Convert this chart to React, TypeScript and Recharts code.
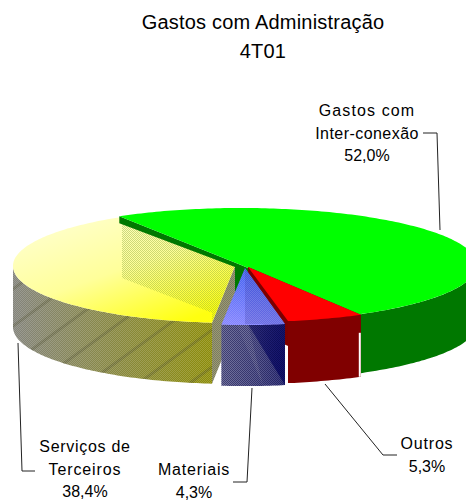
import React from "react";
import { PieChart, Pie, Cell } from "recharts";

const categories = ["Serviços de Terceiros", "Gastos com Inter-conexão", "Outros", "Materiais"];
const shares = [38.4, 52.0, 5.3, 4.3];
const percentLabels = ["38,4%", "52,0%", "5,3%", "4,3%"];
const titleLines = ["Gastos com Administração", "4T01"];

const labelLines: string[][] = [
  ["Serviços de", "Terceiros", "38,4%"],
  ["Gastos com", "Inter-conexão", "52,0%"],
  ["Outros", "5,3%"],
  ["Materiais", "4,3%"],
];
const labelPlace = [
  { x: 85, y: 452, spacing: [0.7, 0.9, 0] },
  { x: 367, y: 116, spacing: [1.1, 0.45, 0] },
  { x: 427, y: 449, spacing: [0.8, 0] },
  { x: 194, y: 475, spacing: [0.8, 0] },
];
const leaders = [
  "18,343 22,471 35,471",
  "423,133 437,133 440,230",
  "325,384 383,455 397,455",
  "252,388 247,482 233,482",
];

const PIE_X = 238;
const PIE_Y = 265;
const R = 228;
// exploded offset and scale of each slice in the 3-D view
const view = [
  { dx: -3, dy: 1, rx: 222, ry: 57, depth: 61 },
  { dx: 3, dy: 0, rx: 236, ry: 57, depth: 59 },
  { dx: 10, dy: 2, rx: 228, ry: 55, depth: 62 },
  { dx: 7, dy: 3, rx: 228, ry: 57, depth: 61 },
];

const warp = (a: number) => a + 3 * Math.cos(((a + 45) * Math.PI) / 180);
type P = [number, number];
const str = (pts: P[]) => pts.map((p) => `${p[0].toFixed(1)},${p[1].toFixed(1)}`).join(" ");
const down = (pts: P[], d: number): P[] => pts.map((p) => [p[0], p[1] + d] as P);

function Slice(props: any) {
  const { cx, cy, startAngle, endAngle, index } = props;
  const v = view[index];
  const C: P = [cx + v.dx, cy + v.dy];
  const at = (a: number): P => [
    C[0] + v.rx * Math.cos((a * Math.PI) / 180),
    C[1] - v.ry * Math.sin((a * Math.PI) / 180),
  ];
  const a0 = warp(startAngle);
  const a1 = warp(endAngle);
  const hi = Math.max(a0, a1);
  const lo = Math.min(a0, a1);
  const arc = (h: number, l: number) => {
    const out: P[] = [];
    for (let a = h; a > l; a -= 1) out.push(at(a));
    out.push(at(l));
    return out;
  };
  const top = [C, ...arc(hi, lo)];
  const wallArc = hi > 180 ? arc(hi, Math.max(lo, 180)) : arc(Math.min(hi, 0), Math.max(lo, -180));
  const wall = [...wallArc, ...down(wallArc, v.depth).reverse()];
  const d = v.depth;
  const Ph = at(hi);
  const Pl = at(lo);

  if (index === 0) {
    const back: P = [C[0] - 113, C[1] - 42];
    return (
      <g>
        <defs>
          <pattern id="ditherLight" width="2" height="2" patternUnits="userSpaceOnUse">
            <rect width="1" height="1" fill="#ffffff" fillOpacity="0.45" />
            <rect x="1" y="1" width="1" height="1" fill="#ffffff" fillOpacity="0.45" />
          </pattern>
          <pattern id="ditherDark" width="2" height="2" patternUnits="userSpaceOnUse">
            <rect width="1" height="1" fill="#000040" fillOpacity="0.45" />
            <rect x="1" y="1" width="1" height="1" fill="#000040" fillOpacity="0.45" />
          </pattern>
          <pattern id="ditherGreen" width="2" height="2" patternUnits="userSpaceOnUse">
            <rect width="1" height="1" fill="#80a030" fillOpacity="0.5" />
            <rect x="1" y="1" width="1" height="1" fill="#80a030" fillOpacity="0.5" />
          </pattern>
          <pattern id="bands" width="30" height="30" patternUnits="userSpaceOnUse" patternTransform="rotate(-36)">
            <rect y="0" width="30" height="3" fill="#404020" fillOpacity="0.28" />
          </pattern>
          <linearGradient id="yellowTop" x1="0" y1="0" x2="0.75" y2="1">
            <stop offset="0" stopColor="#ffffd8" />
            <stop offset="0.55" stopColor="#ffff9a" />
            <stop offset="1" stopColor="#ffff10" />
          </linearGradient>
          <linearGradient id="yellowWall" x1="0" y1="0" x2="1" y2="0">
            <stop offset="0" stopColor="#84847c" />
            <stop offset="1" stopColor="#8c8c08" />
          </linearGradient>
          <linearGradient id="blueTop" x1="0.5" y1="0" x2="0.3" y2="1">
            <stop offset="0" stopColor="#3f5ff0" />
            <stop offset="1" stopColor="#8484ff" />
          </linearGradient>
          <linearGradient id="blueWall" x1="0" y1="0" x2="1" y2="0">
            <stop offset="0" stopColor="#74749c" />
            <stop offset="0.55" stopColor="#5c5c90" />
            <stop offset="1" stopColor="#3c3c80" />
          </linearGradient>
          <linearGradient id="blueShade" x1="0" y1="0" x2="1" y2="0.4">
            <stop offset="0" stopColor="#14146c" stopOpacity="0.55" />
            <stop offset="1" stopColor="#14146c" stopOpacity="1" />
          </linearGradient>
        </defs>
        <polygon points={str(wall)} fill="url(#yellowWall)" />
        <polygon points={str(wall)} fill="url(#bands)" />
        <polygon points={str(wall)} fill="url(#ditherLight)" fillOpacity={0.4} />
        <polygon points={str([C, Ph, ...down([Ph, C], d)])} fill="#9c9c70" />
        <polygon points={str([C, Ph, ...down([Ph, C], d)])} fill="url(#ditherDark)" fillOpacity={0.5} />
        <polygon points={str(top)} fill="url(#yellowTop)" />
        <polygon
          points={str([back, C, Ph, [Ph[0], Ph[1] - 10], [back[0], back[1] + 54]])}
          fill="url(#ditherGreen)"
          fillOpacity={0.8}
        />
      </g>
    );
  }
  if (index === 1) {
    // the cut face shows as a thin strip over the yellow slice and fully behind the small slices
    const face: P[] = [
      Ph,
      C,
      Pl,
      [Pl[0], Pl[1] + d],
      [C[0], C[1] + d],
      [C[0] - 6, C[1] + 28],
      [C[0] - 6, C[1] + 2],
      [Ph[0], Ph[1] + 7],
    ];
    return (
      <g>
        <polygon points={str(face)} fill="#007800" />
        <polygon points={str(wall)} fill="#007800" />
        <polygon points={str(top)} fill="#00ff00" />
        <line x1={Pl[0] - 1} y1={Pl[1]} x2={Pl[0] - 1} y2={Pl[1] + d} stroke="#ffffff" strokeWidth={2} />
      </g>
    );
  }
  if (index === 2) {
    return (
      <g>
        <polygon points={str([C, Ph, ...down([Ph, C], d)])} fill="#7c0000" />
        <polygon points={str(wall)} fill="#800000" />
        <polygon points={str(top)} fill="#ff0000" />
        <line x1={Ph[0] - 1} y1={Ph[1] + 18} x2={Ph[0] - 1} y2={Ph[1] + d} stroke="#ffffff" strokeWidth={2} />
      </g>
    );
  }
  return (
    <g>
      <polygon points={str(wall)} fill="url(#blueWall)" />
      <polygon points={str([[C[0] + 3, Ph[1]], Ph, [Ph[0], Ph[1] + d]])} fill="url(#blueShade)" />
      <polygon
        points={str([[C[0] - 8, Pl[1]], [C[0] + 3, Ph[1]], [C[0] + 18, Pl[1] + d]])}
        fill="#7a7aa0"
        fillOpacity={0.55}
      />
      <polygon points={str(wall)} fill="url(#ditherDark)" />
      <polygon points={str(top)} fill="url(#blueTop)" />
      <polygon points={str([C, Ph, [C[0], Ph[1]]])} fill="#30309c" fillOpacity={0.25} />
      <polygon points={str(top)} fill="url(#ditherLight)" fillOpacity={0.35} />
    </g>
  );
}

function SliceLabel(props: any) {
  const { index } = props;
  const place = labelPlace[index];
  return (
    <g>
      <polyline points={leaders[index]} fill="none" stroke="#222222" strokeWidth={1} />
      {labelLines[index].map((line, i) => (
        <text
          key={line}
          x={place.x}
          y={place.y + i * 22.5}
          textAnchor="middle"
          fontFamily="Liberation Sans, Arial, sans-serif"
          fontSize={16}
          letterSpacing={place.spacing[i]}
          fill="#000000"
        >
          {line}
        </text>
      ))}
    </g>
  );
}

const data = categories.map((name, i) => ({ name, value: shares[i], percent: percentLabels[i] }));

export default function App() {
  return (
    <div style={{ position: "absolute", left: 0, top: 0, width: 466, height: 500, background: "#ffffff", overflow: "hidden" }}>
      <PieChart width={466} height={500} margin={{ top: 0, right: 0, bottom: 0, left: 0 }}>
        <Pie
          data={data}
          dataKey="value"
          nameKey="name"
          cx={PIE_X}
          cy={PIE_Y}
          innerRadius={0}
          outerRadius={R}
          startAngle={262.24}
          endAngle={-97.76}
          stroke="none"
          isAnimationActive={false}
          shape={Slice}
          label={SliceLabel}
          labelLine={false}
        >
          {data.map((d) => (
            <Cell key={d.name} />
          ))}
        </Pie>
        {titleLines.map((t, i) => (
          <text
            key={t}
            x={263}
            y={29 + i * 29}
            textAnchor="middle"
            fontFamily="Liberation Sans, Arial, sans-serif"
            fontSize={20}
            letterSpacing={0.2}
            fill="#000000"
          >
            {t}
          </text>
        ))}
      </PieChart>
    </div>
  );
}
